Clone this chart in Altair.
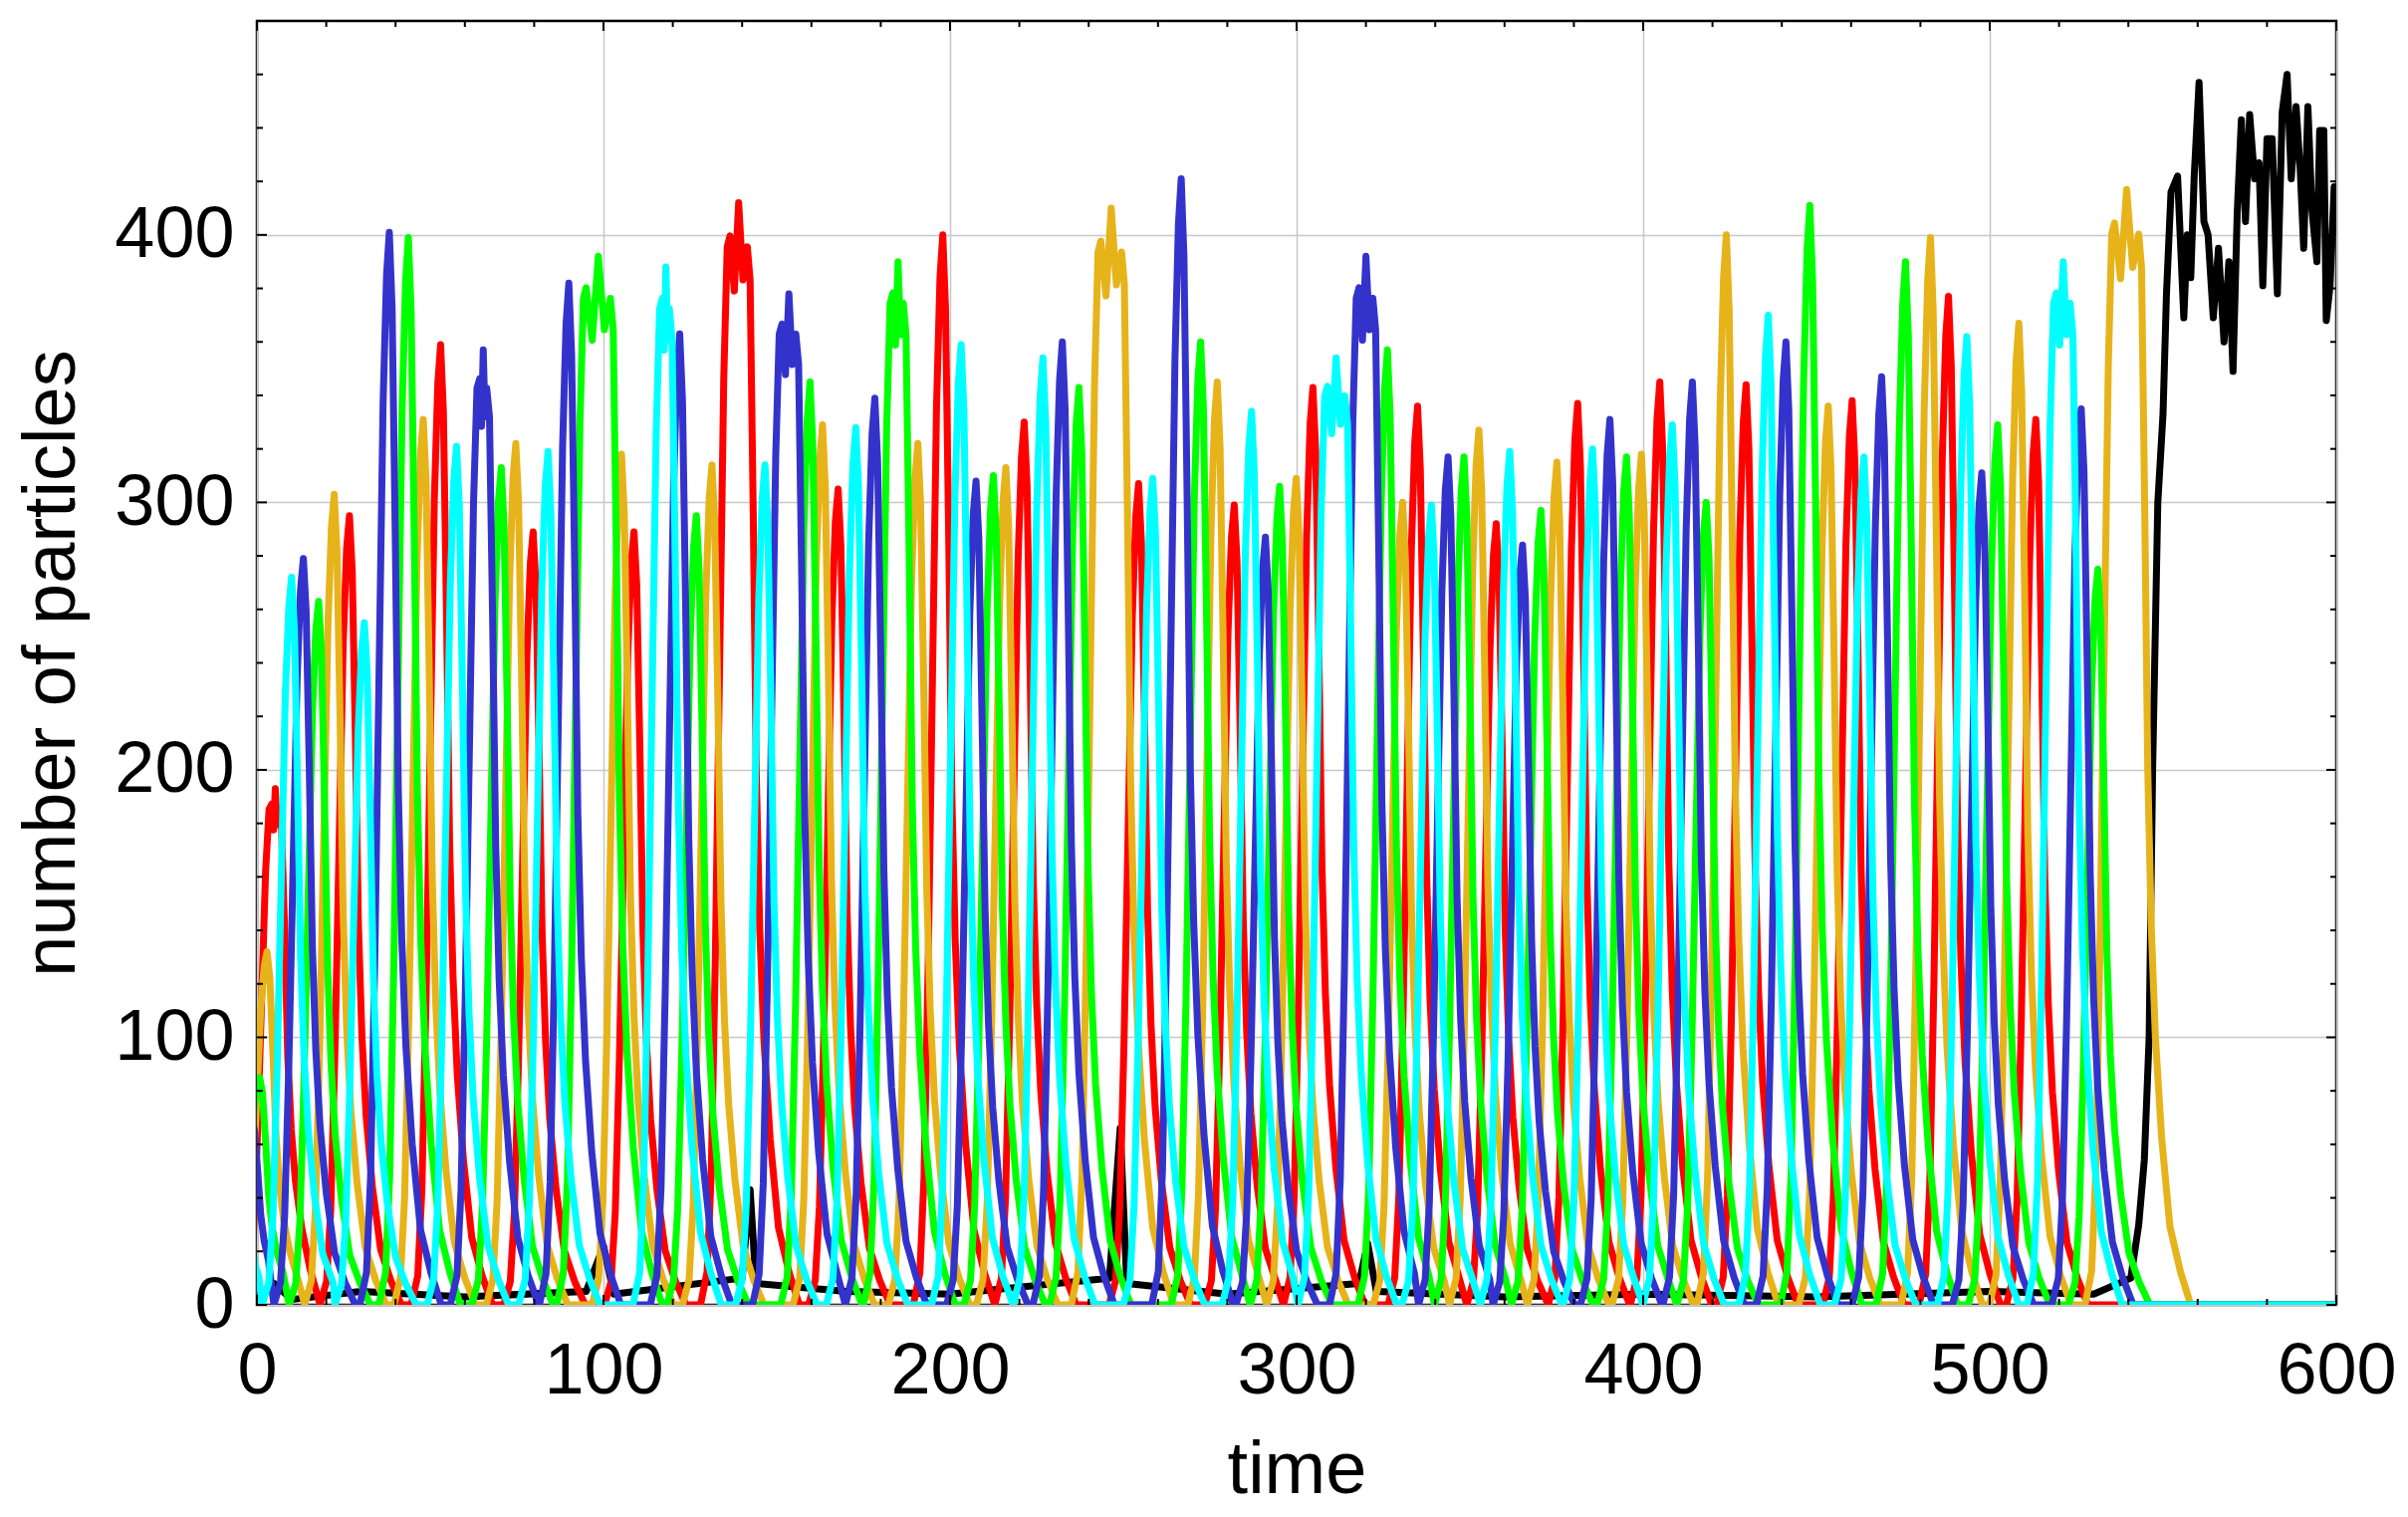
import altair as alt
import pandas as pd

# ---------------- axis values ----------------
X_TICKS = [0, 100, 200, 300, 400, 500, 600]
Y_TICKS = [0, 100, 200, 300, 400]
X_MINOR = [v for v in range(0, 601, 20) if v % 100 != 0]
Y_MINOR = [v for v in range(0, 481, 20) if v % 100 != 0]
X_MAJOR = [v for v in range(0, 601, 100)]
Y_MAJOR = [v for v in range(0, 481, 100)]

# ---------------- pulse profile read off isolated peaks ----------------
# offset from peak time, fraction of the peak height
SHAPE_OFFSET = [-8.5, -6.6, -5.4, -4.2, -3.0, -1.8, -0.8, 0.0, 0.8, 1.7, 2.6, 3.6, 4.8, 6.6, 9.0, 12.0, 15.0]
SHAPE_FRAC = [0.0, 0.03, 0.12, 0.32, 0.58, 0.84, 0.96, 1.0, 0.93, 0.72, 0.48, 0.34, 0.24, 0.15, 0.07, 0.03, 0.0]

# ---------------- peaks per series: time, height, width of flat top ----------------
RED_T = [5.3, 26.7, 53.0, 79.7, 108.8, 139.0, 167.7, 197.9, 221.4, 254.4, 282.0, 304.7, 334.9, 357.6, 381.1, 404.8, 429.7, 460.3, 488.1, 513.3]
RED_N = [193, 295, 359, 289, 289, 412, 305, 400, 330, 307, 299, 343, 336, 292, 337, 345, 344, 338, 377, 331]
RED_W = [2, 0, 0, 0, 0, 5, 0, 0, 0, 0, 0, 0, 0, 0, 0, 0, 0, 0, 0, 0]

BLUE_T = [-1.5, 13.4, 38.2, 65.3, 90.0, 122.0, 153.5, 178.3, 207.5, 232.4, 266.7, 291.0, 320.0, 343.7, 365.2, 390.4, 414.2, 441.2, 468.8, 497.7, 526.4]
BLUE_N = [70, 279, 401, 357, 382, 363, 378, 339, 308, 360, 421, 287, 392, 317, 284, 331, 345, 360, 347, 311, 335]
BLUE_W = [0, 0, 0, 2, 0, 0, 4, 0, 0, 0, 0, 0, 4, 0, 0, 0, 0, 0, 0, 0, 0]

GREEN_T = [0.8, 17.8, 43.7, 70.5, 98.5, 126.8, 159.6, 185.0, 212.5, 237.2, 272.3, 295.1, 326.2, 348.3, 370.5, 395.2, 418.2, 448.1, 475.7, 502.3, 531.2]
GREEN_N = [85, 263, 399, 313, 392, 295, 345, 390, 310, 343, 360, 306, 357, 317, 297, 317, 300, 411, 390, 329, 275]
GREEN_W = [0, 0, 0, 0, 7, 0, 0, 3, 0, 0, 0, 0, 0, 0, 0, 0, 0, 0, 0, 0, 0]

ORANGE_T = [2.9, 22.3, 48.0, 74.7, 105.2, 131.3, 163.2, 190.7, 216.1, 246.5, 277.1, 299.9, 330.6, 352.6, 375.1, 399.5, 424.0, 453.4, 482.9, 508.4, 539.5]
ORANGE_N = [132, 303, 331, 322, 318, 314, 329, 322, 313, 410, 345, 309, 300, 327, 315, 318, 400, 336, 399, 367, 417]
ORANGE_W = [0, 0, 0, 0, 0, 0, 0, 0, 0, 6, 0, 0, 0, 0, 0, 0, 0, 0, 0, 0, 7]

CYAN_T = [-3.0, 10.0, 31.0, 57.6, 84.0, 118.0, 146.6, 172.8, 203.2, 226.8, 258.5, 287.0, 311.4, 338.9, 361.5, 385.4, 408.4, 436.1, 463.7, 493.4, 521.2]
CYAN_N = [30, 272, 255, 321, 319, 388, 314, 328, 359, 354, 309, 334, 354, 299, 319, 320, 329, 370, 317, 362, 390]
CYAN_W = [0, 0, 0, 0, 0, 2, 0, 0, 0, 0, 0, 0, 5, 0, 0, 0, 0, 0, 0, 0, 4]

# black: low noise with a few bumps, then the takeover after t ~ 545
BLACK_T = [0, 5, 10, 30, 60, 95, 100, 103, 140, 142.3, 144, 170, 200, 246, 249.1, 251, 280, 318, 320.5, 323,
           360, 400, 450, 500, 530, 540.7, 543, 544.6, 546, 547, 548.5, 550, 551, 552.3, 554.2, 556, 557, 558,
           559, 560.4, 561.8, 563, 564.5, 566, 567.6, 569, 570.2, 571.4, 572.6, 573.8, 575, 576.4, 577.7, 578.8,
           580, 581.5, 583, 584.4, 585.8, 587, 588.4, 589.6, 590.6, 591.8, 593, 594.4, 595.2, 596.4, 597.1,
           598.2, 599.4, 600]
BLACK_N = [3, 8, 2, 5, 3, 5, 22, 4, 10, 43, 8, 5, 4, 10, 66, 8, 4, 8, 23, 5,
           3, 4, 3, 5, 4, 10, 30, 54, 100, 200, 300, 333, 378, 416, 422, 369, 400, 384,
           422, 457, 405, 400, 369, 395, 360, 390, 349, 408, 443, 405, 445, 421, 427, 381,
           436, 436, 378, 446, 460, 421, 448, 424, 395, 448, 409, 390, 439, 439, 368,
           381, 418, 400]

COLORS = {
    "black": "#000000",
    "red": "#FF0000",
    "orange": "#E6B31A",
    "green": "#00FF00",
    "blue": "#3333CC",
    "cyan": "#00FFFF",
}
ORDER = ["black", "red", "orange", "green", "blue", "cyan"]


def pulse_train(ts, ns, ws):
    pts = []
    for i in range(len(ts)):
        t, n, w = ts[i], ns[i], ws[i]
        nxt = ts[i + 1] - ws[i + 1] / 2 + SHAPE_OFFSET[0] if i + 1 < len(ts) else 1e9
        for off, fr in zip(SHAPE_OFFSET, SHAPE_FRAC):
            if off < 0:
                pts.append((t - w / 2 + off, fr * n))
            elif off == 0:
                if w > 0:
                    pts += [(t - w / 2, 0.97 * n), (t - w / 4, 0.92 * n), (t, n),
                            (t + w / 4, 0.93 * n), (t + w / 2, 0.96 * n)]
                else:
                    pts.append((t, n))
            else:
                x = t + w / 2 + off
                if x < nxt:
                    pts.append((x, fr * n))
    pts.append((600, 0))
    return pts


rows = []
for t, n in zip(BLACK_T, BLACK_N):
    rows.append({"s": "black", "t": t, "n": n})
for name, (ts, ns, ws) in {
    "red": (RED_T, RED_N, RED_W),
    "orange": (ORANGE_T, ORANGE_N, ORANGE_W),
    "green": (GREEN_T, GREEN_N, GREEN_W),
    "blue": (BLUE_T, BLUE_N, BLUE_W),
    "cyan": (CYAN_T, CYAN_N, CYAN_W),
}.items():
    for t, n in pulse_train(ts, ns, ws):
        rows.append({"s": name, "t": t, "n": n})
df = pd.DataFrame(rows)

W, H = 2088, 1289
FONT = "Liberation Sans"

xscale = alt.Scale(domain=[0, 600], nice=False, zero=False)
yscale = alt.Scale(domain=[0, 480], nice=False, zero=False)

xaxis = alt.Axis(values=X_TICKS, title="time", labelPadding=31, titlePadding=28,
                 labelFlush=False, labelOverlap=False, format="d")
yaxis = alt.Axis(values=Y_TICKS, title="number of particles", labelPadding=23, titlePadding=24,
                 labelFlush=False, labelOverlap=False, format="d")

layers = []
for name in ORDER:
    layers.append(
        alt.Chart(df)
        .transform_filter(alt.datum.s == name)
        .mark_line(color=COLORS[name], strokeWidth=7, clip=True, strokeJoin="round")
        .encode(x=alt.X("t:Q", scale=xscale, axis=xaxis),
                y=alt.Y("n:Q", scale=yscale, axis=yaxis))
    )

# inward frame ticks
xmin_df = pd.DataFrame({"t": X_MINOR})
xmaj_df = pd.DataFrame({"t": X_MAJOR})
ymin_df = pd.DataFrame({"n": Y_MINOR})
ymaj_df = pd.DataFrame({"n": Y_MAJOR})
tick_layers = []
for d, ln in ((xmin_df, 6), (xmaj_df, 10)):
    tick_layers.append(alt.Chart(d).mark_rule(color="black", strokeWidth=2).encode(
        x=alt.X("t:Q", scale=xscale), y=alt.value(H), y2=alt.value(H - ln)))
    tick_layers.append(alt.Chart(d).mark_rule(color="black", strokeWidth=2).encode(
        x=alt.X("t:Q", scale=xscale), y=alt.value(0), y2=alt.value(ln)))
for d, ln in ((ymin_df, 6), (ymaj_df, 10)):
    tick_layers.append(alt.Chart(d).mark_rule(color="black", strokeWidth=2).encode(
        y=alt.Y("n:Q", scale=yscale), x=alt.value(0), x2=alt.value(ln)))
    tick_layers.append(alt.Chart(d).mark_rule(color="black", strokeWidth=2).encode(
        y=alt.Y("n:Q", scale=yscale), x=alt.value(W), x2=alt.value(W - ln)))

chart = (
    alt.layer(*layers, *tick_layers)
    .properties(width=W, height=H,
                autosize=alt.AutoSizeParams(type="none"),
                padding={"left": 250, "top": 13, "right": 60, "bottom": 205},
                background="white")
    .configure_view(stroke="black", strokeWidth=2.5)
    .configure_axis(labelFont=FONT, titleFont=FONT, labelFontSize=72, titleFontSize=74,
                    titleFontWeight="normal", labelColor="black", titleColor="black",
                    grid=True, gridColor="#c8c8c8", gridWidth=1.5,
                    domain=False, ticks=False, tickSize=0)
)

chart.save("out.html", embed_options={"renderer": "svg", "actions": False})
